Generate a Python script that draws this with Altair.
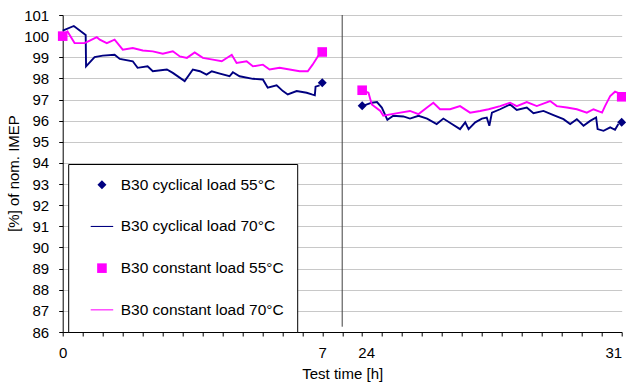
import altair as alt
import pandas as pd

# ---- series definitions ----
series_names = ["B30 cyclical load 55°C", "B30 cyclical load 70°C",
                "B30 constant load 55°C", "B30 constant load 70°C"]
series_colors = ["#000080", "#000080", "#FF00FF", "#FF00FF"]

# ---- marker series (55°C): test time [h], % of nominal IMEP ----
cyc55_t = [0, 7, 24, 31]
cyc55_v = [100.0, 97.80, 96.70, 95.92]
con55_t = [0, 7, 24, 31]
con55_v = [100.0, 99.25, 97.44, 97.13]

# ---- line series (70°C) ----
cyc70_t = [0, 0.30, 0.62, 0.63, 0.86, 1.08, 1.40, 1.54, 1.89, 2.02, 2.29, 2.43, 2.81,
           2.97, 3.29, 3.51, 3.70, 3.88, 4.02, 4.24, 4.50, 4.59, 4.77, 5.13, 5.40, 5.53,
           5.77, 5.94, 6.07, 6.31, 6.58, 6.72, 6.80, 6.82, 6.93,
           24.0, 24.13, 24.26, 24.40, 24.53, 24.68, 24.84, 25.11, 25.29, 25.52, 25.75,
           26.01, 26.19, 26.42, 26.64, 26.78, 26.87, 27.05, 27.23, 27.36, 27.43, 27.50,
           27.72, 27.99, 28.17, 28.44, 28.62, 28.89, 29.16, 29.43, 29.61, 29.79, 29.97,
           30.15, 30.31, 30.35, 30.51, 30.69, 30.82, 30.91]
cyc70_v = [100.26, 100.48, 100.06, 98.57, 99.01, 99.08, 99.12, 98.92, 98.81, 98.50, 98.57,
           98.34, 98.42, 98.26, 97.87, 98.42, 98.34, 98.18, 98.34, 98.23, 98.10, 98.29,
           98.10, 97.98, 97.95, 97.56, 97.67, 97.40, 97.24, 97.40, 97.32, 97.24, 97.20,
           97.61, 97.67,
           96.69, 96.77, 96.85, 96.88, 96.62, 96.04, 96.23, 96.20, 96.10, 96.23, 96.10,
           95.84, 96.10, 95.84, 95.60, 95.92, 95.60, 95.92, 96.10, 96.15, 95.76, 96.38,
           96.54, 96.77, 96.51, 96.62, 96.35, 96.46, 96.26, 96.07, 95.84, 96.07, 95.76,
           95.99, 96.15, 95.60, 95.52, 95.68, 95.57, 95.84]
con70_t = [0, 0.13, 0.32, 0.59, 0.73, 0.92, 1.00, 1.19, 1.40, 1.62, 1.89, 2.16, 2.43,
           2.70, 2.97, 3.16, 3.35, 3.56, 3.78, 4.05, 4.29, 4.56, 4.69, 4.96, 5.13, 5.40,
           5.58, 5.85, 6.12, 6.39, 6.61, 6.74, 6.88, 6.95,
           24.0, 24.17, 24.26, 24.49, 24.57, 24.80, 25.03, 25.29, 25.52, 25.75, 25.92,
           26.10, 26.37, 26.64, 26.91, 27.18, 27.41, 27.72, 27.99, 28.17, 28.44, 28.71,
           29.07, 29.25, 29.52, 29.79, 30.06, 30.24, 30.47, 30.55, 30.69, 30.82, 30.92]
con70_v = [100.01, 100.22, 99.67, 99.67, 99.79, 99.95, 99.83, 99.67, 99.83, 99.36, 99.44,
           99.32, 99.28, 99.17, 99.28, 99.04, 98.97, 99.23, 98.97, 98.89, 98.81, 99.12,
           98.73, 98.81, 98.57, 98.65, 98.42, 98.50, 98.42, 98.34, 98.34, 98.65, 99.04,
           99.20,
           97.44, 97.32, 96.77, 96.46, 96.23, 96.31, 96.38, 96.46, 96.31, 96.62, 96.85,
           96.54, 96.54, 96.69, 96.38, 96.46, 96.54, 96.69, 96.85, 96.69, 96.88, 96.69,
           96.93, 96.69, 96.62, 96.54, 96.38, 96.54, 96.38, 96.69, 97.16, 97.37, 97.30]

# ---- broken time axis: two 7 h windows ----
axis_hours = [0, 7, 24, 31]
axis_ticks = 28          # minor tick count across the whole axis
break_tick = 14          # position of the axis break
y_ticks = list(range(86, 102))


def pos(t):
    return t * 13 / 7 if t <= 12 else 15 + (t - 24) * 13 / 7


def frame(ts, vs, name):
    return pd.DataFrame({"u": [pos(t) for t in ts], "v": vs, "series": name,
                         "seg": ["a" if t <= 12 else "b" for t in ts]})


lines_df = pd.concat([frame(cyc70_t, cyc70_v, series_names[1]),
                      frame(con70_t, con70_v, series_names[3])])
points_df = pd.concat([frame(cyc55_t, cyc55_v, series_names[0]),
                       frame(con55_t, con55_v, series_names[2])])
break_df = pd.DataFrame({"u": [break_tick], "v": [101], "v2": [86.25]})

tick_label_map = {int(round(pos(h))): str(h) for h in axis_hours}
label_expr = " : ".join(
    [f"round(datum.value) == {k} ? '{v}'" for k, v in tick_label_map.items()]) + " : ''"

FONT = "Liberation Sans"
FS = 15

xscale = alt.Scale(domain=[0, axis_ticks], nice=False, zero=False)
yscale = alt.Scale(domain=[86, 101], nice=False, zero=False)

color_scale = alt.Scale(domain=series_names, range=series_colors)
shape_scale = alt.Scale(domain=series_names, range=[
    "M0,-0.6L0.6,0L0,0.6L-0.6,0Z",
    "M-1.5,-0.07H1.5V0.07H-1.5Z",
    "M-0.64,-0.64H0.64V0.64H-0.64Z",
    "M-1.5,-0.07H1.5V0.07H-1.5Z",
])

x_axis = alt.Axis(
    title="Test time [h]", values=list(range(axis_ticks + 1)), labelExpr=label_expr,
    grid=False, tickSize=4, labelPadding=9, labelFlush=False, labelOverlap=False,
    labelOffset={"condition": {"test": f"round(datum.value) == {int(pos(24))}",
                               "value": 4}, "value": 0},
    labelAlign={"condition": {"test": f"round(datum.value) == {axis_ticks}",
                              "value": "right"}, "value": "center"},
    titlePadding=6)
y_axis = alt.Axis(
    title="[%] of nom. IMEP", values=y_ticks, grid=True, tickSize=4, labelPadding=10,
    labelOverlap=False, titleX=-49, titleY=158, titleAngle=270, titleAlign="center",
    titleBaseline="middle")

x_enc = alt.X("u:Q", scale=xscale, axis=x_axis)
y_enc = alt.Y("v:Q", scale=yscale, axis=y_axis)

break_rule = alt.Chart(break_df).mark_rule(color="#404040", strokeWidth=1).encode(
    x=x_enc, y=y_enc, y2="v2:Q")

lines = alt.Chart(lines_df).mark_line(strokeWidth=1.9, interpolate="linear").encode(
    x=x_enc, y=y_enc,
    stroke=alt.Stroke("series:N", scale=alt.Scale(domain=series_names,
                                                  range=series_colors), legend=None),
    detail="seg:N",
)

points = alt.Chart(points_df).mark_point(filled=True, size=225, opacity=1).encode(
    x=x_enc, y=y_enc,
    color=alt.Color("series:N", scale=color_scale, title=None),
    shape=alt.Shape("series:N", scale=shape_scale, title=None),
)

chart = alt.layer(break_rule, lines, points).resolve_scale(stroke="independent").properties(
    width=559, height=317,
    autosize=alt.AutoSizeParams(type="none"),
    padding={"left": 62.7, "top": 15, "right": 4.3, "bottom": 55},
    background="white",
).configure_view(stroke=None).configure_axis(
    labelFont=FONT, titleFont=FONT, labelFontSize=FS, titleFontSize=FS,
    titleFontWeight="normal", labelColor="black", titleColor="black",
    domainColor="black", tickColor="black", gridColor="#c8c8c8", gridWidth=1,
).configure_legend(
    orient="none", legendX=5.5, legendY=149, strokeColor="black", fillColor="white",
    padding=13, rowPadding=24.7, symbolSize=225, symbolStrokeWidth=0,
    symbolOffset=13, labelOffset=11, labelFont=FONT, labelFontSize=15.5,
    labelColor="black", labelLimit=400, cornerRadius=0,
)

chart.save("out.html", embed_options={"renderer": "svg", "actions": False})
